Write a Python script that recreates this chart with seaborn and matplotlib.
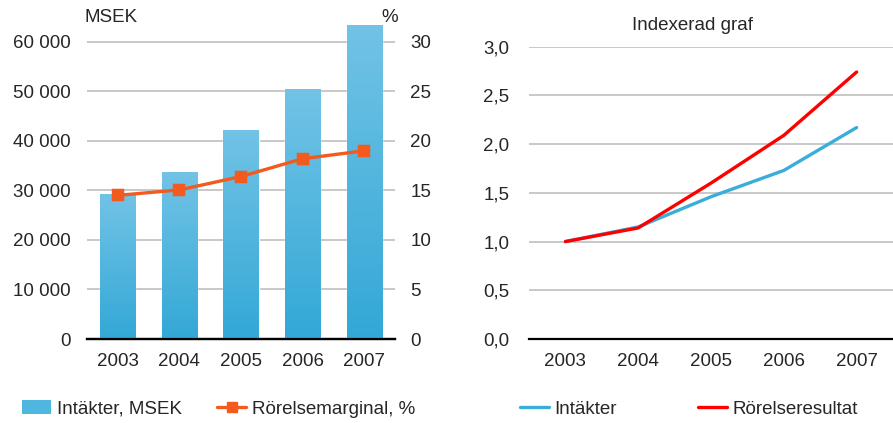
import matplotlib
matplotlib.use("Agg")
import matplotlib.pyplot as plt
import numpy as np
import pandas as pd
import seaborn as sns
from matplotlib.lines import Line2D
from matplotlib.patches import Patch
from matplotlib.ticker import FuncFormatter

# Data
years = ["2003", "2004", "2005", "2006", "2007"]
intakter_msek = [29300, 33700, 42200, 50500, 63400]
rorelsemarginal = [14.5, 15.05, 16.4, 18.2, 19.0]
index_intakter = [1.0, 1.15, 1.46, 1.73, 2.17]
index_rorelseresultat = [1.0, 1.14, 1.60, 2.09, 2.74]

sns.set_style("white")
plt.rcParams["font.family"] = ["Liberation Sans", "DejaVu Sans"]
FS = 13.5

BAR_TOP = "#72C3E6"
BAR_BOT = "#33A8D6"
ORANGE = "#F25A1F"
BLUE = "#3AADD9"
RED = "#FF0000"
GRID = "#BFBFBF"
LW = 2.4

fig = plt.figure(figsize=(8.93, 4.23), dpi=100)
ax1 = fig.add_axes([87 / 893, 84 / 423, 308 / 893, 317 / 423])
ax3 = fig.add_axes([529 / 893, 84 / 423, 364 / 893, 292.3 / 423])

# ---- left chart: bars + margin line
df_left = pd.DataFrame({"year": years, "rev": intakter_msek, "margin": rorelsemarginal})
sns.barplot(data=df_left, x="year", y="rev", color=BAR_BOT, width=0.57,
            saturation=1, ax=ax1, zorder=2)

# gradient fill on bars
grad = np.linspace(0, 1, 256).reshape(-1, 1)
cmap = matplotlib.colors.LinearSegmentedColormap.from_list("g", [BAR_BOT, BAR_TOP])
for p in ax1.patches:
    x0, w, h = p.get_x(), p.get_width(), p.get_height()
    im = ax1.imshow(grad, extent=[x0, x0 + w, 0, h], origin="lower", cmap=cmap,
                    aspect="auto", zorder=3)
    im.set_clip_path(p)

ax1.set_xlim(-0.5, 4.5)
ax1.set_ylim(0, 64000)
ax1.set_yticks(range(0, 60001, 10000))
ax1.yaxis.set_major_formatter(FuncFormatter(lambda v, _: f"{int(v):,}".replace(",", " ")))
ax1.grid(axis="y", color=GRID, lw=1.2, zorder=0)
ax1.set_axisbelow(True)
ax1.set_xlabel("")
ax1.set_ylabel("")

ax2 = ax1.twinx()
sns.pointplot(data=df_left, x="year", y="margin", color=ORANGE, markers="s",
              markersize=7, linewidth=LW, errorbar=None, ax=ax2)
ax2.set_xlim(-0.5, 4.5)
ax2.set_ylim(0, 32)
ax2.set_yticks(range(0, 31, 5))
ax2.set_ylabel("")
ax2.set_xlabel("")

for a in (ax1, ax2):
    for s in ("top", "left", "right"):
        a.spines[s].set_visible(False)
    a.spines["bottom"].set_color("black")
    a.spines["bottom"].set_linewidth(1.6)
    a.tick_params(length=0, labelsize=FS)
ax1.tick_params(axis="y", pad=12)
ax2.tick_params(axis="y", pad=11)
ax1.tick_params(axis="x", pad=10)

fig.text(85 / 893, 1 - 18 / 423, "MSEK", fontsize=FS, va="center", ha="left")
fig.text(381 / 893, 1 - 18 / 423, "%", fontsize=FS, va="center", ha="left")

# ---- right chart: indexed lines
df_right = pd.DataFrame({
    "year": years * 2,
    "value": index_intakter + index_rorelseresultat,
    "serie": ["Intäkter"] * 5 + ["Rörelseresultat"] * 5,
})
sns.lineplot(data=df_right, x="year", y="value", hue="serie",
             palette={"Intäkter": BLUE, "Rörelseresultat": RED},
             linewidth=LW, sort=False, legend=False, ax=ax3, zorder=3)
ax3.set_xlim(-0.5, 4.5)
ax3.set_ylim(0, 3.0)
ax3.set_yticks(np.arange(0, 3.01, 0.5))
ax3.yaxis.set_major_formatter(FuncFormatter(lambda v, _: f"{v:.1f}".replace(".", ",")))
ax3.grid(axis="y", color=GRID, lw=1.2, zorder=0)
ax3.set_xlabel("")
ax3.set_ylabel("")
for s in ("top", "left", "right"):
    ax3.spines[s].set_visible(False)
ax3.spines["bottom"].set_color("black")
ax3.spines["bottom"].set_linewidth(1.6)
ax3.tick_params(length=0, labelsize=FS)
ax3.tick_params(axis="y", pad=14)
ax3.tick_params(axis="x", pad=10)

fig.text(693 / 893, 1 - 25 / 423, "Indexerad graf", fontsize=FS, ha="center", va="center")

# ---- legends
h1 = [Patch(facecolor="#4FB6DF", edgecolor="none"),
      Line2D([], [], color=ORANGE, lw=LW, marker="s", markersize=7)]
fig.legend(h1, ["Intäkter, MSEK", "Rörelsemarginal, %"], loc="center left",
           bbox_to_anchor=(5 / 893, 1 - 409 / 423), ncol=2, frameon=False,
           fontsize=FS, handlelength=1.55, handletextpad=0.3, columnspacing=1.9)
h2 = [Line2D([], [], color=BLUE, lw=LW), Line2D([], [], color=RED, lw=LW)]
fig.legend(h2, ["Intäkter", "Rörelseresultat"], loc="center left",
           bbox_to_anchor=(503 / 893, 1 - 409 / 423), ncol=2, frameon=False,
           fontsize=FS, handlelength=1.55, handletextpad=0.3, columnspacing=4.3)

fig.savefig("out.png", dpi=100)
